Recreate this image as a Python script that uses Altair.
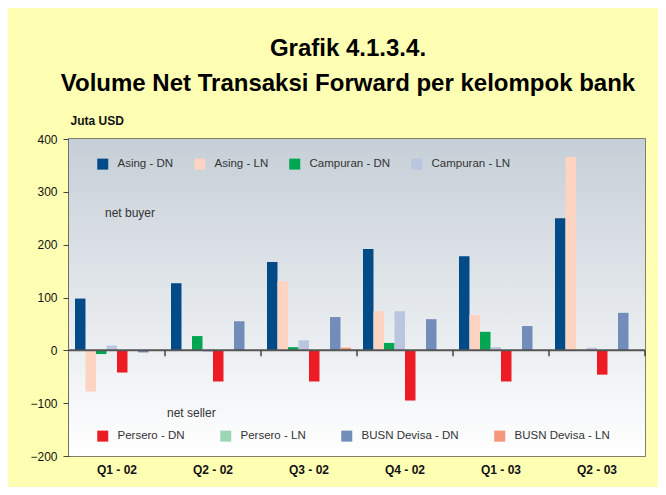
import altair as alt
import pandas as pd

quarters = ["Q1 - 02", "Q2 - 02", "Q3 - 02", "Q4 - 02", "Q1 - 03", "Q2 - 03"]
series_top = ["Asing - DN", "Asing - LN", "Campuran - DN", "Campuran - LN"]
series_bottom = ["Persero - DN", "Persero - LN", "BUSN Devisa - DN", "BUSN Devisa - LN"]
all_series = series_top + series_bottom

asing_dn = [98, 127, 167, 192, 178, 250]
asing_ln = [-78, 0, 131, 74, 67, 366]
campuran_dn = [-7, 27, 6, 14, 35, 0]
campuran_ln = [9, -3, 19, 74, 6, 5]
persero_dn = [-42, -59, -59, -95, -59, -46]
persero_ln = [0, 0, 0, 0, 0, 0]
busn_dn = [-4, 55, 63, 59, 46, 71]
busn_ln = [0, 0, 5, 0, 0, 0]

colors_top = ["#034A88", "#FDD3C1", "#00A651", "#BAC6DF"]
colors_bottom = ["#ED1C24", "#9ED6B3", "#728DBA", "#F4977A"]

values = {
    "Asing - DN": asing_dn, "Asing - LN": asing_ln,
    "Campuran - DN": campuran_dn, "Campuran - LN": campuran_ln,
    "Persero - DN": persero_dn, "Persero - LN": persero_ln,
    "BUSN Devisa - DN": busn_dn, "BUSN Devisa - LN": busn_ln,
}

rows = []
for s in all_series:
    for q, v in zip(quarters, values[s]):
        rows.append({"quarter": q, "series": s, "value": v})
df = pd.DataFrame(rows)
df_top = df[df.series.isin(series_top)]
df_bottom = df[df.series.isin(series_bottom)]

W, H = 576, 317

x_enc = alt.X("quarter:N", sort=quarters, scale=alt.Scale(paddingInner=0, paddingOuter=0),
              axis=alt.Axis(title=None, labelFontWeight="bold", labelFontSize=12, labelColor="#111",
                            labelFont="Liberation Sans", ticks=False, domain=False, labelPadding=8,
                            labelAngle=0))
xo_enc = alt.XOffset("series:N", sort=all_series,
                     scale=alt.Scale(domain=all_series, paddingInner=0, paddingOuter=0.57))
y_enc = alt.Y("value:Q", scale=alt.Scale(domain=[-200, 400], nice=False),
              axis=alt.Axis(values=[-200, -100, 0, 100, 200, 300, 400], grid=False,
                            tickSize=6, tickColor="#444", domainColor="#444", domainWidth=1.5,
                            labelFontSize=12, labelColor="#111", labelFont="Liberation Sans",
                            labelPadding=6,
                            title="Juta USD", titleAngle=0, titleAlign="left", titleBaseline="middle",
                            titleX=1, titleY=-19, titleFontSize=12, titleFont="Liberation Sans",
                            titleFontWeight="bold", titleColor="#111"))

bg = alt.Chart(pd.DataFrame({"a": [0]})).mark_rect(
    color=alt.LinearGradient(gradient="linear", x1=0, x2=0, y1=0, y2=1,
                             stops=[alt.GradientStop(color="#C6CFD7", offset=0),
                                    alt.GradientStop(color="#FFFFFF", offset=1)])
).encode(x=alt.value(0), x2=alt.value(W), y=alt.value(0), y2=alt.value(H))

legend_common = dict(orient="none", direction="horizontal", title=None, symbolType="square",
                     symbolSize=121, symbolStrokeWidth=0, labelFontSize=11.5, labelColor="#333",
                     labelFont="Liberation Sans", labelOffset=9, symbolOpacity=1)

bars_top = alt.Chart(df_top).mark_bar(size=10.5).encode(
    x=x_enc, xOffset=xo_enc, y=y_enc,
    color=alt.Color("series:N", sort=series_top,
                    scale=alt.Scale(domain=series_top, range=colors_top),
                    legend=alt.Legend(legendX=28, legendY=19, columnPadding=20, **legend_common)),
)
bars_bottom = alt.Chart(df_bottom).mark_bar(size=10.5).encode(
    x=x_enc, xOffset=xo_enc, y=y_enc,
    color=alt.Color("series:N", sort=series_bottom,
                    scale=alt.Scale(domain=series_bottom, range=colors_bottom),
                    legend=alt.Legend(legendX=28, legendY=291, columnPadding=35, **legend_common)),
)

zero = alt.Chart(pd.DataFrame({"a": [0]})).mark_rule(color="#555", strokeWidth=2).encode(
    y=alt.datum(0))

ticks = alt.Chart(pd.DataFrame({"quarter": quarters})).mark_rule(color="#444", strokeWidth=1.5).encode(
    x=alt.X("quarter:N", sort=quarters, bandPosition=1),
    y=alt.datum(0), y2=alt.datum(-11))

notes = pd.DataFrame({"label": ["net buyer", "net seller"], "v": [260, -119], "px": [36, 98]})
note_text = alt.Chart(notes).mark_text(align="left", baseline="middle", fontSize=12,
                                       font="Liberation Sans", color="#333").encode(
    x=alt.X("px:Q", scale=None), y=alt.Y("v:Q"), text="label:N")

chart = alt.layer(bg, bars_top, bars_bottom, zero, ticks, note_text).resolve_scale(
    color="independent"
).properties(
    width=W, height=H,
    background="#FFFFB3",
    padding={"left": 61, "top": 131, "right": 13, "bottom": 31},
    autosize=alt.AutoSizeParams(type="none"),
    title=alt.TitleParams(["Grafik 4.1.3.4.", "Volume Net Transaksi Forward per kelompok bank"],
                          anchor="middle", frame="group", fontSize=24, font="Liberation Sans",
                          fontWeight="bold", color="#000", lineHeight=35, offset=18, dx=-9),
).configure_view(stroke="#555", strokeWidth=1.5)

chart.save("out.html", embed_options={"renderer": "svg", "actions": False})
